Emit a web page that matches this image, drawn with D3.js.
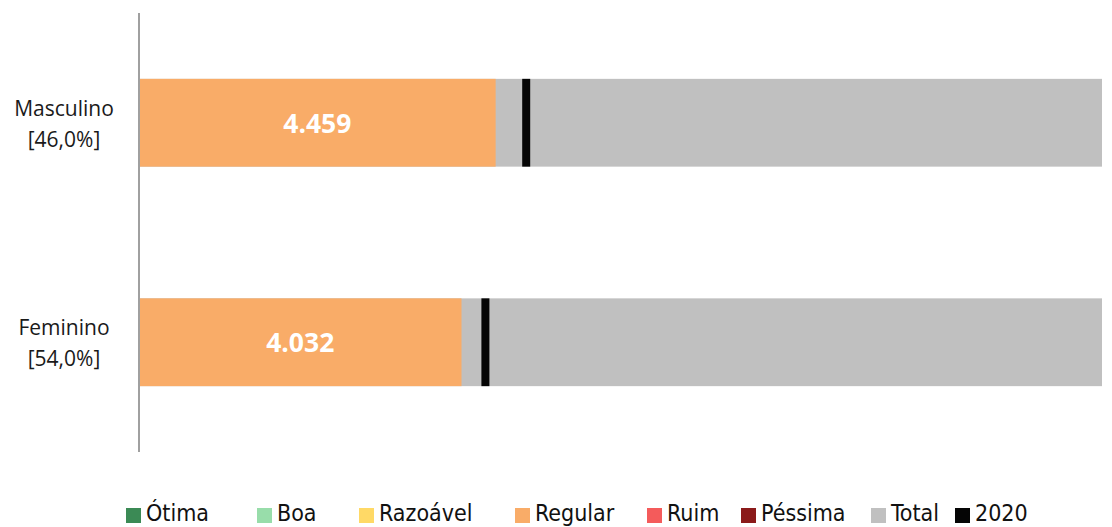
<!DOCTYPE html>
<html>
<head>
<meta charset="utf-8">
<script src="https://cdn.jsdelivr.net/npm/d3@7"></script>
<style>
  body { margin: 0; background: #fff; }
</style>
</head>
<body>
<svg id="chart" width="1112" height="527"></svg>
<script>
// data
const categories = ['Masculino', 'Feminino']
const shares = ['[46,0%]', '[54,0%]']
const regular = [4459, 4032]
const total = [12040, 12040]
const ano2020 = [4841, 4331]

const legendNames = ['Ótima', 'Boa', 'Razoável', 'Regular', 'Ruim', 'Péssima', 'Total', '2020']
const legendColors = ['#3b8a55', '#98ddaa', '#ffd966', '#f9ac68', '#f45b5b', '#8b1a1a', '#c0c0c0', '#050505']

// layout
const M = { top: 13, right: 10, bottom: 75, left: 139 }
const LEGEND_X = [126, 257, 359, 515, 647, 741, 871, 955]

const svg = d3.select('#chart')
const W = +svg.attr('width'), H = +svg.attr('height')

const x = d3.scaleLinear().domain([0, d3.max(total)]).range([M.left, 1102])
const y = d3.scaleBand().domain(categories).range([M.top, H - M.bottom])
  .paddingInner(0.6).paddingOuter(0.3)

const rows = categories.map((c, i) => ({ cat: c, share: shares[i], regular: regular[i], total: total[i], y2020: ano2020[i] }))

// total bars (grey)
svg.selectAll('rect.total').data(rows).enter().append('rect')
  .attr('class', 'total')
  .attr('x', x(0)).attr('y', d => y(d.cat))
  .attr('width', d => x(d.total) - x(0))
  .attr('height', y.bandwidth())
  .attr('fill', '#c0c0c0')

// regular bars
svg.selectAll('rect.regular').data(rows).enter().append('rect')
  .attr('class', 'regular')
  .attr('x', x(0)).attr('y', d => y(d.cat))
  .attr('width', d => x(d.regular) - x(0))
  .attr('height', y.bandwidth())
  .attr('fill', '#f9ac68')

// 2020 markers
svg.selectAll('rect.m2020').data(rows).enter().append('rect')
  .attr('class', 'm2020')
  .attr('x', d => x(d.y2020) - 4).attr('y', d => y(d.cat))
  .attr('width', 8)
  .attr('height', y.bandwidth())
  .attr('fill', '#050505')

// value labels
svg.selectAll('text.val').data(rows).enter().append('text')
  .attr('class', 'val')
  .attr('x', d => (x(0) + x(d.regular)) / 2)
  .attr('y', d => y(d.cat) + y.bandwidth() / 2)
  .attr('dy', '0.38em')
  .attr('text-anchor', 'middle')
  .style('font-family', 'Open Sans, sans-serif')
  .style('font-weight', 700)
  .style('font-size', '26.5px')
  .attr('fill', '#fff')
  .text(d => d3.format(',')(d.regular).replace(/,/g, '.'))

// axis line
svg.append('line')
  .attr('x1', M.left).attr('x2', M.left)
  .attr('y1', M.top).attr('y2', H - M.bottom)
  .attr('stroke', '#a0a0a0').attr('stroke-width', 2)

// category labels
const lab = svg.selectAll('text.cat').data(rows).enter().append('text')
  .attr('class', 'cat')
  .attr('text-anchor', 'middle')
  .style('font-family', 'Open Sans, sans-serif')
  .style('font-size', '21px')
  .attr('fill', '#1a1a1a')
lab.append('tspan').attr('x', 64).attr('y', d => y(d.cat) + y.bandwidth() / 2 - 7).text(d => d.cat)
lab.append('tspan').attr('x', 64).attr('y', d => y(d.cat) + y.bandwidth() / 2 + 24).text(d => d.share)

// legend
const lg = svg.append('g').selectAll('g').data(legendNames).enter().append('g')
  .attr('transform', (d, i) => 'translate(' + LEGEND_X[i] + ',508)')
lg.append('rect').attr('width', 15).attr('height', 15)
  .attr('fill', (d, i) => legendColors[i])
lg.append('text')
  .attr('x', 20).attr('y', 13)
  .style('font-family', '"Liberation Sans Narrow", "DejaVu Sans Condensed", sans-serif')
  .style('font-size', '23px')
  .attr('fill', '#111')
  .text(d => d)
</script>
</body>
</html>
